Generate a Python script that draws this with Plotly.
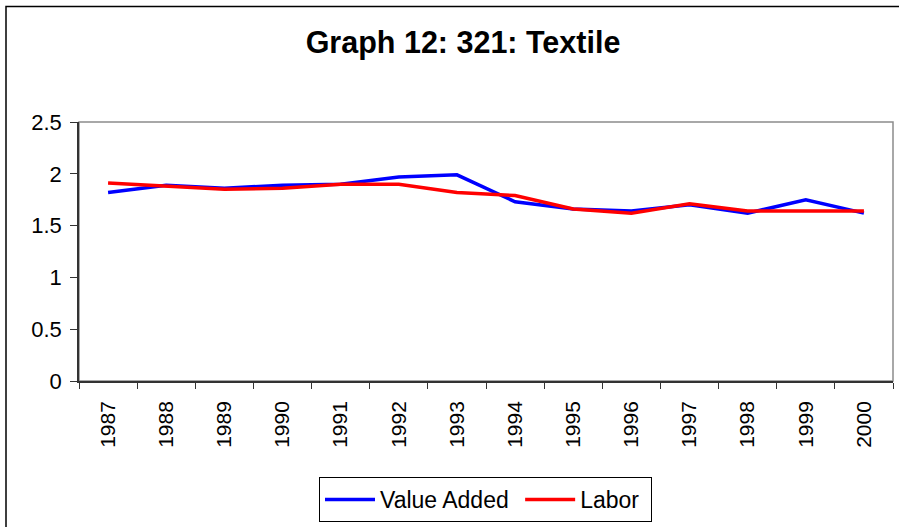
import plotly.graph_objects as go

years = [str(y) for y in range(1987, 2001)]
value_added = [1.82, 1.89, 1.86, 1.89, 1.90, 1.97, 1.99, 1.73, 1.66, 1.64, 1.70, 1.62, 1.75, 1.62]
labor = [1.91, 1.88, 1.85, 1.86, 1.90, 1.90, 1.82, 1.79, 1.66, 1.62, 1.71, 1.64, 1.64, 1.64]

W, H = 899, 527
L, R, T, B = 79, 6, 122, 145
pw, ph = W - L - R, H - T - B


def px(x):
    return (x - L) / pw


def py(y):
    return (H - B - y) / ph


font = "Liberation Sans, Arial, sans-serif"

fig = go.Figure()
fig.add_trace(go.Scatter(x=years, y=value_added, mode="lines", name="Value Added ",
                         line=dict(color="#0000FF", width=3.5)))
fig.add_trace(go.Scatter(x=years, y=labor, mode="lines", name="Labor ",
                         line=dict(color="#FF0000", width=3.5)))

# plot-area frame (grey) and the outer chart border (black)
fig.add_shape(type="rect", xref="paper", yref="paper", x0=0, x1=1, y0=0, y1=1,
              line=dict(color="#8c8c8c", width=1.5), layer="below")
fig.add_shape(type="rect", xref="paper", yref="paper",
              x0=px(6), x1=px(910), y0=py(540), y1=py(6),
              line=dict(color="black", width=1.5))

fig.update_xaxes(type="category", range=[-0.5, 13.5], tickson="boundaries",
                 ticks="outside", ticklen=6, tickcolor="#333", tickwidth=1.2,
                 showline=True, linecolor="#333", linewidth=1.5,
                 tickangle=-90, ticklabelstandoff=10, showgrid=False,
                 tickfont=dict(size=21, color="black", family=font))
fig.update_yaxes(range=[0, 2.5], dtick=0.5, ticks="outside", ticklen=7,
                 tickcolor="#333", tickwidth=1.2, showline=True, linecolor="#333",
                 linewidth=1.5, showgrid=False, zeroline=False, ticklabelstandoff=4,
                 tickfont=dict(size=22, color="black", family=font))

fig.update_layout(
    width=W, height=H,
    margin=dict(l=L, r=R, t=T, b=B),
    plot_bgcolor="white", paper_bgcolor="white",
    title=dict(text="<b>Graph 12: 321: Textile</b>", x=px(463), xref="paper",
               xanchor="center", y=1 - 42 / H, yanchor="middle",
               font=dict(size=30.5, color="black", family=font)),
    showlegend=True,
    legend=dict(orientation="h", xref="paper", yref="paper",
                x=px(485.5), xanchor="center", y=py(477), yanchor="top",
                bordercolor="black", borderwidth=1, itemwidth=50,
                font=dict(size=23, color="black", family=font),
                tracegroupgap=0),
)

fig.write_html("out.html", config={"displayModeBar": False},
               post_script="document.body.style.margin='0';"
                           "document.body.style.overflow='hidden';")
